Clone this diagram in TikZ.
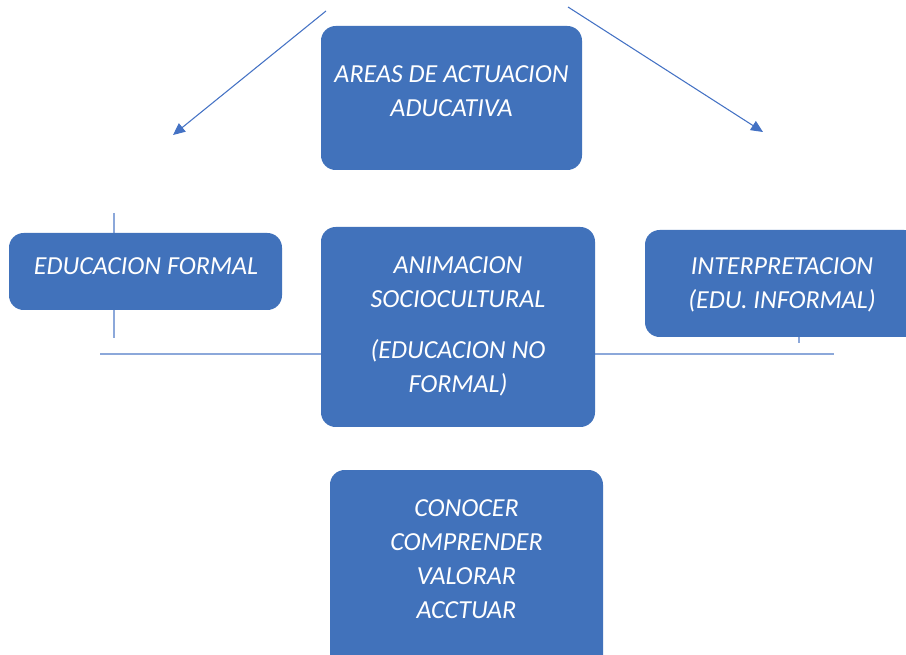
\documentclass[tikz,border=0pt]{standalone}
\usepackage{fontspec}
\setmainfont{Carlito}
\usetikzlibrary{calc,arrows.meta}

\definecolor{boxblue}{RGB}{65,114,187}
\definecolor{lineblue}{RGB}{68,114,196}
\definecolor{paleblue}{RGB}{140,168,218}

\tikzset{
  area/.style={rectangle, rounded corners=11pt, fill=boxblue, draw=none, inner sep=0pt},
  areatext/.style={text=white, align=center, font=\fontsize{19.5}{25.5}\selectfont\itshape},
  guide/.style={draw=paleblue, line width=0.9pt},
  pointer/.style={draw=lineblue, line width=0.8pt, -{Triangle[length=9pt,width=8pt]}}
}

\begin{document}
\begin{tikzpicture}[x=0.75pt, y=-0.75pt]
\useasboundingbox (0,0) rectangle (906,655);
\clip (0,0) rectangle (906,655);

\coordinate (areas) at (451.5,98);
\coordinate (formal) at (145.5,271.5);
\coordinate (anim) at (458,327);
\coordinate (interp) at (782,283.5);
\coordinate (verbs) at (466.5,570);

% lines behind the boxes
\coordinate (hl) at (100,354);
\coordinate (hr) at (834,354);
\coordinate (vt) at (114,213);
\coordinate (vb) at (114,338);
\coordinate (rt) at (799,300);
\coordinate (rb) at (799,343);
\draw [guide] (hl) -- (hr);
\draw [guide] (vt) -- (vb);
\draw [guide] (rt) -- (rb);

\coordinate (al0) at (326,11);
\coordinate (al1) at (173,135);
\coordinate (ar0) at (568,7);
\coordinate (ar1) at (763,132);
\draw [pointer] (al0) -- (al1);
\draw [pointer] (ar0) -- (ar1);

\node (b-areas)  [area, minimum width=195.75pt, minimum height=108pt]   at (areas) {};
\node (b-formal) [area, minimum width=204.75pt, minimum height=57.75pt] at (formal) {};
\node (b-anim)   [area, minimum width=205.5pt,  minimum height=150pt]   at (anim) {};
\node (b-interp) [area, minimum width=205.5pt,  minimum height=80.25pt] at (interp) {};
\node (b-verbs)  [area, minimum width=204.75pt, minimum height=150pt]   at (verbs) {};

\node (t-areas)  [areatext] at ($(b-areas) + (0,-7)$) {AREAS DE ACTUACION\\ADUCATIVA};
\node (t-formal) [areatext] at ($(b-formal) + (0.5,-5)$) {EDUCACION FORMAL};
\node (t-anim)   [areatext] at ($(b-anim) + (0,-0.5)$) {ANIMACION\\SOCIOCULTURAL\\[12.75pt](EDUCACION NO\\FORMAL)};
\node (t-interp) [areatext] at ($(b-interp) + (0,1)$) {INTERPRETACION\\(EDU. INFORMAL)};
\node (t-verbs)  [areatext] at ($(b-verbs) + (0,-11)$) {CONOCER\\COMPRENDER\\VALORAR\\ACCTUAR};

\end{tikzpicture}
\end{document}
